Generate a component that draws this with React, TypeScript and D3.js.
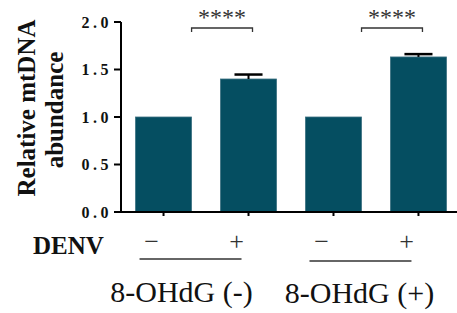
import React from 'react';
import * as d3 from 'd3';

// chart values
const categories = ['neg-minus', 'neg-plus', 'pos-minus', 'pos-plus'];
const denvLabels = ['\u2212', '+', '\u2212', '+'];
const values = [1.0, 1.4, 1.0, 1.632];
const errors = [0, 0.047, 0, 0.03];
const groupLabels = ['8-OHdG (-)', '8-OHdG (+)'];
const yTicks = [0, 0.5, 1.0, 1.5, 2.0];
const sigLabels = ['****', '****'];

const W = 457;
const H = 313;
const barColor = '#054e61';

const App = () => {
    const y = d3.scaleLinear().domain([0, 2]).range([212, 22]);
    const x = d3.scaleBand<string>()
        .domain(categories)
        .range([121, 457])
        .paddingInner(0.34)
        .paddingOuter(0.147)
        .align(0.58);
    const bw = x.bandwidth();
    const cx = (c: string) => (x(c) as number) + bw / 2;

    const serif = '"Liberation Serif", "Times New Roman", serif';

    return (
        <svg width={W} height={H} style={{ position: 'absolute', left: 0, top: 0 }}>
            <rect width={W} height={H} fill="#fff" />

            {/* bars */}
            {categories.map((c, i) => (
                <rect key={c}
                    x={x(c)} y={y(values[i])}
                    width={bw} height={y(0) - y(values[i])}
                    fill={barColor} stroke="#3d7282" strokeWidth={0.8} />
            ))}

            {/* error bars */}
            {categories.map((c, i) => errors[i] > 0 && (
                <g key={'e' + c} stroke="#000">
                    <line x1={cx(c)} x2={cx(c)} y1={y(values[i])} y2={y(values[i] + errors[i])} strokeWidth={2} />
                    <line x1={cx(c) - bw / 4} x2={cx(c) + bw / 4}
                        y1={y(values[i] + errors[i])} y2={y(values[i] + errors[i])} strokeWidth={2.5} />
                </g>
            ))}

            {/* y axis */}
            <line x1={121} x2={121} y1={y(2)} y2={y(0) + 1} stroke="#000" strokeWidth={2} />
            {yTicks.map(t => (
                <g key={t}>
                    <line x1={114} x2={121} y1={y(t)} y2={y(t)} stroke="#000" strokeWidth={2} />
                    <text x={112} y={y(t)} dy="0.36em" textAnchor="end"
                        fontFamily={serif} fontWeight="bold" fontSize={16}
                        letterSpacing={3.5} fill="#111">
                        {t.toFixed(1)}
                    </text>
                </g>
            ))}

            {/* x axis */}
            <line x1={120} x2={457} y1={y(0)} y2={y(0)} stroke="#000" strokeWidth={2} />
            {categories.map(c => (
                <line key={'t' + c} x1={cx(c)} x2={cx(c)} y1={y(0)} y2={y(0) + 4} stroke="#000" strokeWidth={2} />
            ))}

            {/* significance brackets */}
            {[0, 2].map((gi, k) => {
                const x1 = (x(categories[gi]) as number) + bw;
                const x2 = cx(categories[gi + 1]) + 4;
                const by = 28;
                return (
                    <g key={'s' + gi}>
                        <path d={`M${x1},${by + 4}V${by}H${x2}V${by + 4}`}
                            fill="none" stroke="#333" strokeWidth={1.3} />
                        <text x={(x1 + x2) / 2} y={25} textAnchor="middle"
                            fontFamily={serif} fontSize={24} fill="#333">
                            {sigLabels[k]}
                        </text>
                    </g>
                );
            })}

            {/* y label */}
            <text transform="translate(35,108) rotate(-90)" textAnchor="middle"
                fontFamily={serif} fontWeight="bold" fontSize={25} fill="#111">
                Relative mtDNA
            </text>
            <text transform="translate(63,110) rotate(-90)" textAnchor="middle"
                fontFamily={serif} fontWeight="bold" fontSize={25} fill="#111">
                abundance
            </text>

            {/* DENV row */}
            <text x={33} y={254} fontFamily={serif} fontWeight="bold" fontSize={25} fill="#111">DENV</text>
            {categories.map((c, i) => (
                <text key={'d' + c} x={cx(c) - 12} y={250} textAnchor="middle"
                    fontFamily={serif} fontSize={26} fill="#333">
                    {denvLabels[i]}
                </text>
            ))}

            {/* group underlines and labels */}
            {[0, 2].map((gi, k) => {
                const x1 = cx(categories[gi]) - 24;
                const x2 = cx(categories[gi + 1]) - 7;
                const ly = 259 + k * 2;
                return (
                    <g key={'g' + gi}>
                        <line x1={x1} x2={x2} y1={ly} y2={ly} stroke="#333" strokeWidth={1.4} />
                        <text x={(x1 + x2) / 2 - 9 + k * 8} y={302 + k} textAnchor="middle"
                            fontFamily={serif} fontSize={30} fill="#111">
                            {groupLabels[k]}
                        </text>
                    </g>
                );
            })}
        </svg>
    );
};

export default App;
